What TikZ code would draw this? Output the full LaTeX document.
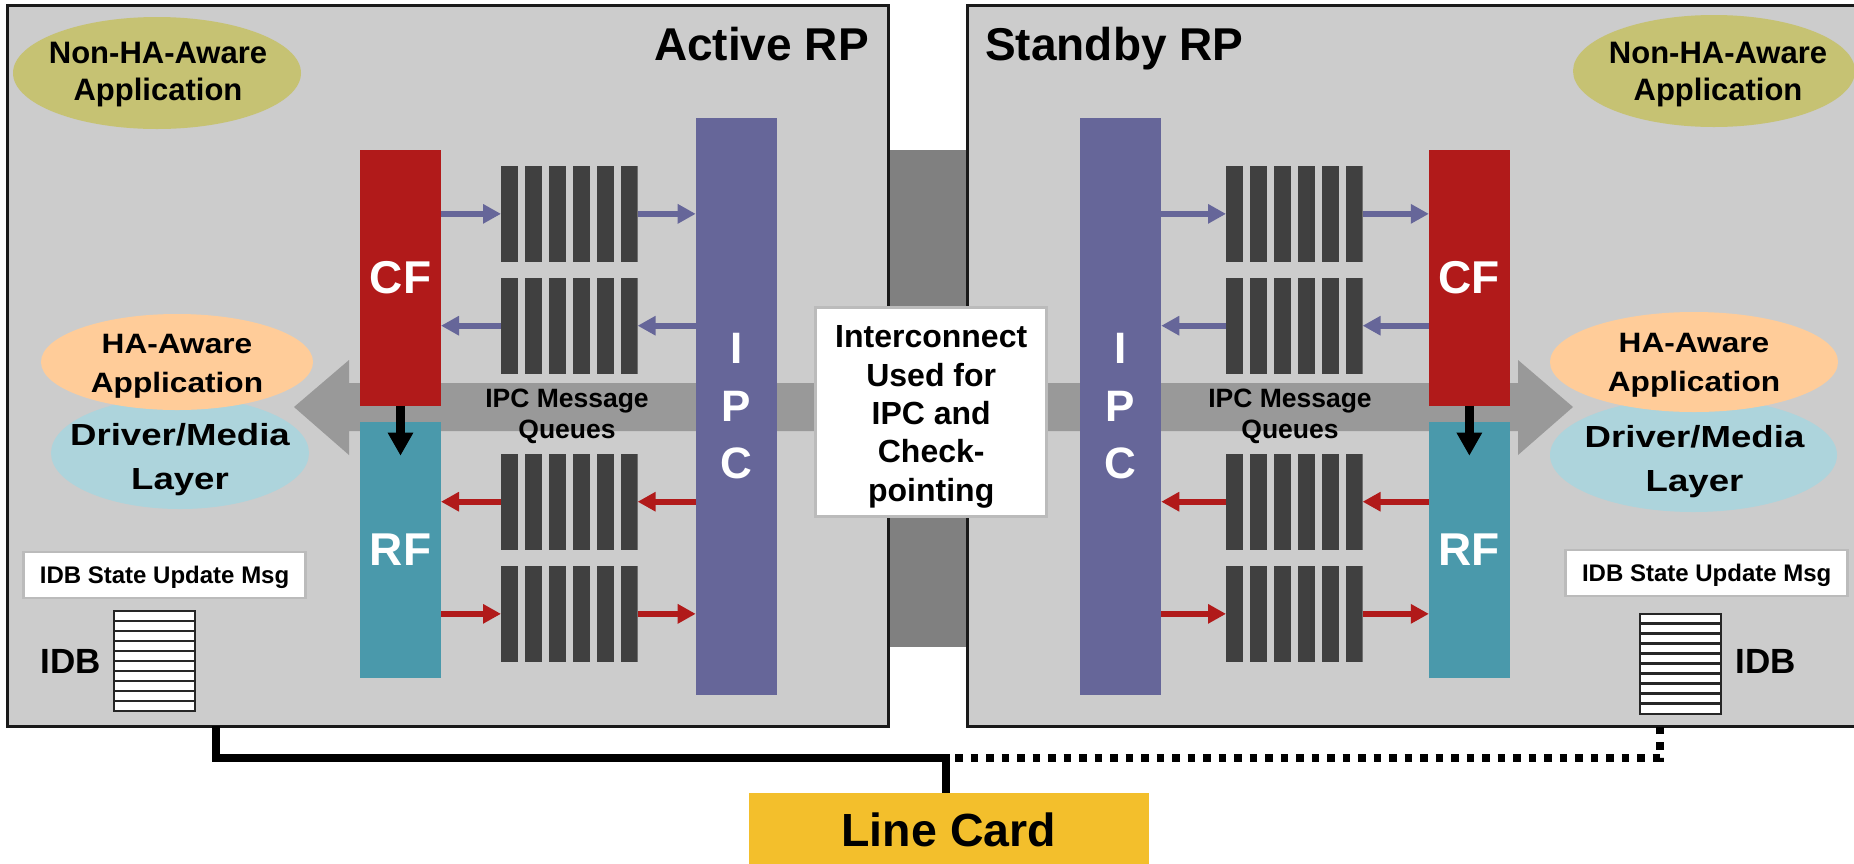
\documentclass[tikz,border=0pt]{standalone}
\usepackage{fontspec}
\setmainfont{Liberation Sans}
\newfontfamily\hafont{Liberation Sans}[FakeStretch=1.13]
\newfontfamily\drvfont{Liberation Sans}[FakeStretch=1.2]
\usetikzlibrary{arrows.meta,shapes.geometric}
\newcommand{\fsz}[2]{\fontsize{#1}{#2}\selectfont\bfseries}
\definecolor{boxgray}{HTML}{CCCCCC}
\definecolor{bandgray}{HTML}{808080}
\definecolor{arrowgray}{HTML}{999999}
\definecolor{cfred}{HTML}{B11A1A}
\definecolor{rfteal}{HTML}{4A99AB}
\definecolor{ipcblue}{HTML}{666699}
\definecolor{qbar}{HTML}{404040}
\definecolor{olivefill}{HTML}{C6C273}
\definecolor{peach}{HTML}{FFCC99}
\definecolor{lblue}{HTML}{ADD4DC}
\definecolor{gold}{HTML}{F3BF2C}
\definecolor{lborder}{HTML}{BBBBBB}
\begin{document}
\begin{tikzpicture}[x=1pt,y=-1pt,
  rpbox/.style={draw=black!90, line width=2.5pt, fill=boxgray, inner sep=0pt, outer sep=0pt},
  colbox/.style={inner sep=0pt, outer sep=0pt, text=white, minimum width=81pt, font=\fsz{46}{50}},
  ipcbox/.style={inner sep=0pt, outer sep=0pt, text=white, fill=ipcblue, minimum width=81.3pt, minimum height=577pt, align=center, font=\fsz{44}{57.5}},
  queue/.style={minimum width=136.6pt, minimum height=95.7pt, inner sep=0pt, outer sep=0pt,
    path picture={\foreach \k in {0,...,5}{\fill[qbar] ([xshift=\k*24pt]path picture bounding box.south west) rectangle ++(16.6pt,95.7pt);}}},
  barrow/.style={ipcblue, line width=5.7pt, -{Triangle[length=18pt,width=18.5pt]}},
  rarrow/.style={cfred, line width=5.7pt, -{Triangle[length=18pt,width=18.5pt]}},
  blkarrow/.style={black, line width=9pt, -{Triangle[length=23pt,width=24pt]}},
  ell/.style={ellipse, inner sep=0pt, outer sep=0pt},
  txt/.style={align=center, inner sep=0pt, outer sep=0pt},
  idbmsg/.style={draw=lborder, line width=2.5pt, fill=white, inner sep=0pt, minimum width=282pt, minimum height=46pt, text height=17.2pt, text depth=0pt, font=\fsz{24}{28}},
  idbstack/.style={draw=black!85, fill=white, line width=2pt, minimum width=81pt, minimum height=100pt, inner sep=0pt,
    path picture={\foreach \k in {1,...,9}{\draw[black!85, line width=2.2pt] ([yshift=\k*10pt]path picture bounding box.south west) -- ([yshift=\k*10pt]path picture bounding box.south east);}}},
  linkline/.style={black, line width=8pt, line cap=butt, line join=miter},
  dotline/.style={linkline, dash pattern=on 7.5pt off 8pt, dash phase=6.5pt}
]
\fill[white] (0,0) rectangle (1854,863);
\useasboundingbox (0,0) rectangle (1854,863);
\clip (0,0) rectangle (1854,863);

% interconnect band
\fill[bandgray] (888.5,150) rectangle (967.5,646.7);
% RP boxes
\node[rpbox, minimum width=880.8pt, minimum height=720.6pt] (active) at (448.1,366) {};
\node[rpbox, minimum width=912.5pt, minimum height=720.6pt] (standby) at (1423.75,366) {};
% big gray double arrow
\fill[arrowgray] (294,407) -- (349,360) -- (349,383) -- (1518,383) -- (1518,360) -- (1573,407)
  -- (1518,455) -- (1518,431) -- (349,431) -- (349,455) -- cycle;
\node[txt, font=\fsz{26.5}{31}] (ipcmqL) at (567,416) {IPC Message\\Queues};
\node[txt, font=\fsz{26.5}{31}] (ipcmqR) at (1290,416) {IPC Message\\Queues};

% titles
\node[anchor=base east, inner sep=0pt, font=\fsz{46}{50}] (tActive) at (869,60) {Active RP};
\node[anchor=base west, inner sep=0pt, font=\fsz{46}{50}] (tStandby) at (985,60) {Standby RP};

% ellipses left
\node[ell, fill=olivefill, minimum width=288pt, minimum height=112pt] (nhaL) at (157,73) {};
\node[txt, font=\fsz{31}{37}] (nhaLt) at (158,74.5) {Non-HA-Aware\\Application};
\node[ell, fill=lblue, minimum width=258pt, minimum height=112pt] (drvL) at (180,453) {};
\node[ell, fill=peach, minimum width=272pt, minimum height=96pt] (haL) at (177,362) {};
\node[txt, font={\hafont\fsz{28}{39}}] (haLt) at (177,366.4) {HA-Aware\\Application};
\node[txt, font={\drvfont\fsz{30.5}{44}}] (drvLt) at (180,460) {Driver/Media\\Layer};
% ellipses right
\node[ell, fill=olivefill, minimum width=282pt, minimum height=112pt] (nhaR) at (1714,71) {};
\node[txt, font=\fsz{31}{37}] (nhaRt) at (1718,74.5) {Non-HA-Aware\\Application};
\node[ell, fill=lblue, minimum width=287pt, minimum height=114pt] (drvR) at (1693.5,455) {};
\node[ell, fill=peach, minimum width=288pt, minimum height=100pt] (haR) at (1694,362) {};
\node[txt, font={\hafont\fsz{28}{39}}] (haRt) at (1694,365.5) {HA-Aware\\Application};
\node[txt, font={\drvfont\fsz{30.5}{44}}] (drvRt) at (1694.5,462) {Driver/Media\\Layer};

% interconnect box
\node[draw=lborder, line width=3pt, fill=white, minimum width=231.3pt, minimum height=209pt, inner sep=0pt] (ic) at (931.15,411.5) {};
\node[txt, font=\fsz{32}{38.4}] (ict) at (931.2,416.9) {Interconnect\\Used for\\IPC and\\Check-\\pointing};

% left column boxes
\node[colbox, fill=cfred, minimum height=255.7pt] (cfL) at (400.5,277.85) {CF};
\node[colbox, fill=rfteal, minimum height=256.3pt] (rfL) at (400.5,549.85) {RF};
\node[ipcbox] (ipcL) at (736.35,406.5) {I\\P\\C};
\node[queue] (q1L) at (569.3,213.85) {};
\node[queue] (q2L) at (569.3,325.7) {};
\node[queue] (q3L) at (569.3,501.7) {};
\node[queue] (q4L) at (569.3,613.85) {};
% right column boxes
\node[colbox, fill=cfred, minimum height=255.7pt] (cfR) at (1469.35,277.85) {CF};
\node[colbox, fill=rfteal, minimum height=256.3pt] (rfR) at (1469.35,549.85) {RF};
\node[ipcbox] (ipcR) at (1120.6,406.5) {I\\P\\C};
\node[queue] (q1R) at (1294.3,213.85) {};
\node[queue] (q2R) at (1294.3,325.7) {};
\node[queue] (q3R) at (1294.3,501.7) {};
\node[queue] (q4R) at (1294.3,613.85) {};

% arrows left
\draw[barrow] (cfL.east |- q1L.west) -- (q1L.west);
\draw[barrow] (q1L.east) -- (ipcL.west |- q1L.east);
\draw[barrow] (q2L.west) -- (cfL.east |- q2L.west);
\draw[barrow] (ipcL.west |- q2L.east) -- (q2L.east);
\draw[rarrow] (q3L.west) -- (rfL.east |- q3L.west);
\draw[rarrow] (ipcL.west |- q3L.east) -- (q3L.east);
\draw[rarrow] (rfL.east |- q4L.west) -- (q4L.west);
\draw[rarrow] (q4L.east) -- (ipcL.west |- q4L.east);
% arrows right
\draw[barrow] (ipcR.east |- q1R.west) -- (q1R.west);
\draw[barrow] (q1R.east) -- (cfR.west |- q1R.east);
\draw[barrow] (cfR.west |- q2R.east) -- (q2R.east);
\draw[barrow] (q2R.west) -- (ipcR.east |- q2R.west);
\draw[rarrow] (rfR.west |- q3R.east) -- (q3R.east);
\draw[rarrow] (q3R.west) -- (ipcR.east |- q3R.west);
\draw[rarrow] (ipcR.east |- q4R.west) -- (q4R.west);
\draw[rarrow] (q4R.east) -- (rfR.west |- q4R.east);
% CF -> RF
\draw[blkarrow] (cfL.south) -- ([yshift=-34pt]rfL.north);
\draw[blkarrow] (cfR.south) -- ([yshift=-34pt]rfR.north);

% IDB
\node[idbmsg] (msgL) at (164.6,575) {IDB State Update Msg};
\node[idbmsg] (msgR) at (1706.7,573.2) {IDB State Update Msg};
\node[idbstack] (idbL) at (154.9,660.9) {};
\node[idbstack] (idbR) at (1680.3,663.5) {};
\node[anchor=base, inner sep=0pt, font=\fsz{35}{40}] (idbLt) at (71,673.3) {IDB};
\node[anchor=base, inner sep=0pt, font=\fsz{35}{40}] (idbRt) at (1766,673.3) {IDB};

% line card
\node[fill=gold, inner sep=0pt, minimum width=400.5pt, minimum height=74pt, text height=33.3pt, text depth=0pt, font=\fsz{46.5}{50}] (lc) at (948.75,830.3) {Line Card};

% connectors
\coordinate (tapA) at (216,726.3);
\coordinate (tapS) at (1659.5,726.3);
\coordinate (jn) at (946,758);
\draw[linkline] (tapA) |- (jn) -- (jn |- lc.north);
\draw[dotline] (jn) -| (tapS);
\end{tikzpicture}
\end{document}
